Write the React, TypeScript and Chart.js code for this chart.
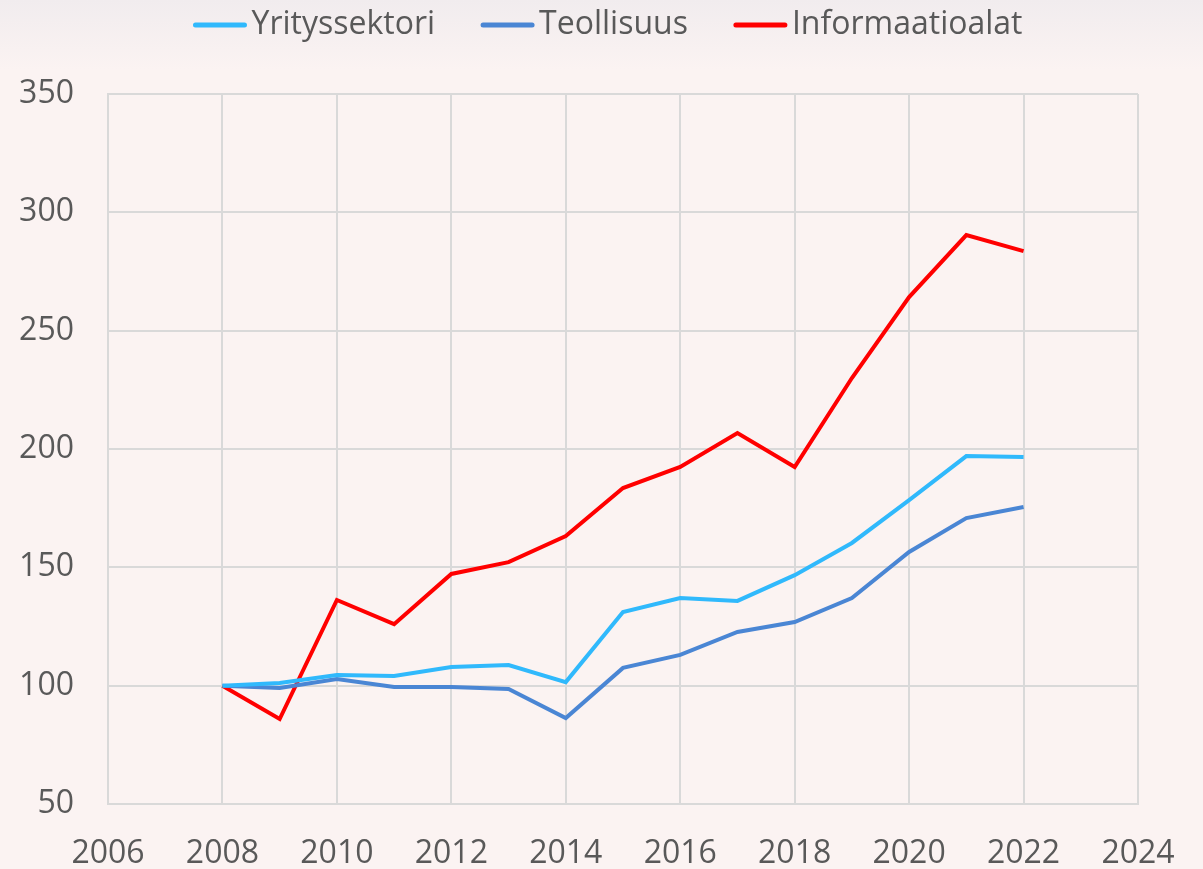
import React, { useEffect, useRef } from "react";
import { Chart, registerables } from "chart.js";

Chart.register(...registerables);

const years = [2008, 2009, 2010, 2011, 2012, 2013, 2014, 2015, 2016, 2017, 2018, 2019, 2020, 2021, 2022];
const yritys = [100, 101.1, 104.5, 104.1, 107.9, 108.7, 101.5, 131.1, 137, 135.8, 146.7, 160.3, 178.4, 197, 196.6];
const teollisuus = [100, 99, 102.8, 99.4, 99.4, 98.6, 86.3, 107.5, 113, 122.7, 126.9, 137, 156.5, 170.8, 175.5];
const informaatio = [100, 85.9, 136.2, 126, 147.2, 152.2, 163.2, 183.5, 192.4, 206.7, 192.4, 230, 264.2, 290.4, 283.6];

const seriesNames = ["Yrityssektori", "Teollisuus", "Informaatioalat"];
const seriesColors = ["#30B9FC", "#4A86D4", "#FF0000"];

const FONT = "'Open Sans', 'Noto Sans', sans-serif";

export default function App() {
  const ref = useRef<HTMLCanvasElement | null>(null);

  useEffect(() => {
    document.body.style.margin = "0";
    const ctx = ref.current!.getContext("2d")!;
    const toPts = (arr: number[]) => arr.map((v, i) => ({ x: years[i], y: v }));
    const datasets = [yritys, teollisuus, informaatio].map((arr, i) => ({
      label: seriesNames[i],
      data: toPts(arr),
      borderColor: seriesColors[i],
      backgroundColor: seriesColors[i],
      borderWidth: 4,
      pointRadius: 0,
      tension: 0,
    }));

    const bgPlugin = {
      id: "bg",
      beforeDraw(chart: any) {
        const c = chart.ctx;
        const g = c.createLinearGradient(0, 0, 0, 70);
        g.addColorStop(0, "#F1ECEE");
        g.addColorStop(1, "#FBF3F2");
        c.save();
        c.fillStyle = g;
        c.fillRect(0, 0, chart.width, chart.height);
        c.restore();
      },
    };

    const legendPlugin = {
      id: "customLegend",
      afterDraw(chart: any) {
        const c = chart.ctx;
        c.save();
        c.font = `32px ${FONT}`;
        c.textBaseline = "middle";
        c.textAlign = "left";
        const lineW = 53;
        const gap = 5;
        const itemGap = 46;
        const ds = chart.data.datasets;
        const widths = ds.map((d: any) => lineW + gap + c.measureText(d.label).width);
        const total = widths.reduce((a: number, b: number) => a + b, 0) + itemGap * (ds.length - 1);
        let x = 608 - total / 2;
        const y = 25;
        ds.forEach((d: any, i: number) => {
          c.strokeStyle = d.borderColor;
          c.lineWidth = 5;
          c.lineCap = "round";
          c.beginPath();
          c.moveTo(x + 2, y);
          c.lineTo(x + lineW - 2, y);
          c.stroke();
          c.fillStyle = "#595959";
          c.fillText(d.label, x + lineW + gap, y);
          x += widths[i] + itemGap;
        });
        c.restore();
      },
    };

    const chart = new Chart(ctx, {
      type: "line",
      data: { datasets },
      plugins: [bgPlugin, legendPlugin],
      options: {
        animation: false,
        responsive: false,
        maintainAspectRatio: false,
        layout: { padding: { left: 0, right: 65, top: 94, bottom: 0 } },
        plugins: {
          legend: { display: false },
          tooltip: { enabled: false },
        },
        scales: {
          x: {
            type: "linear",
            min: 2006,
            max: 2024,
            ticks: {
              stepSize: 2,
              color: "#595959",
              font: { family: FONT, size: 32 },
              padding: 31,
              callback: (v: any) => String(v),
              maxRotation: 0,
              autoSkip: false,
            },
            grid: { color: "#D9D9D9", lineWidth: 2, drawTicks: false },
            border: { color: "#D9D9D9", width: 2 },
            afterFit(scale: any) {
              scale.height = 65;
              scale.paddingLeft = 0;
              scale.paddingRight = 0;
            },
          },
          y: {
            min: 50,
            max: 350,
            ticks: {
              stepSize: 50,
              color: "#595959",
              font: { family: FONT, size: 32 },
              padding: 34,
            },
            grid: { color: "#D9D9D9", lineWidth: 2, drawTicks: false },
            border: { color: "#D9D9D9", width: 2 },
            afterFit(scale: any) {
              scale.width = 108;
            },
          },
        },
      },
    });
    return () => chart.destroy();
  }, []);

  return (
    <div style={{ width: 1203, height: 869, background: "#FBF3F2" }}>
      <canvas ref={ref} width={1203} height={869} style={{ display: "block" }} />
    </div>
  );
}
